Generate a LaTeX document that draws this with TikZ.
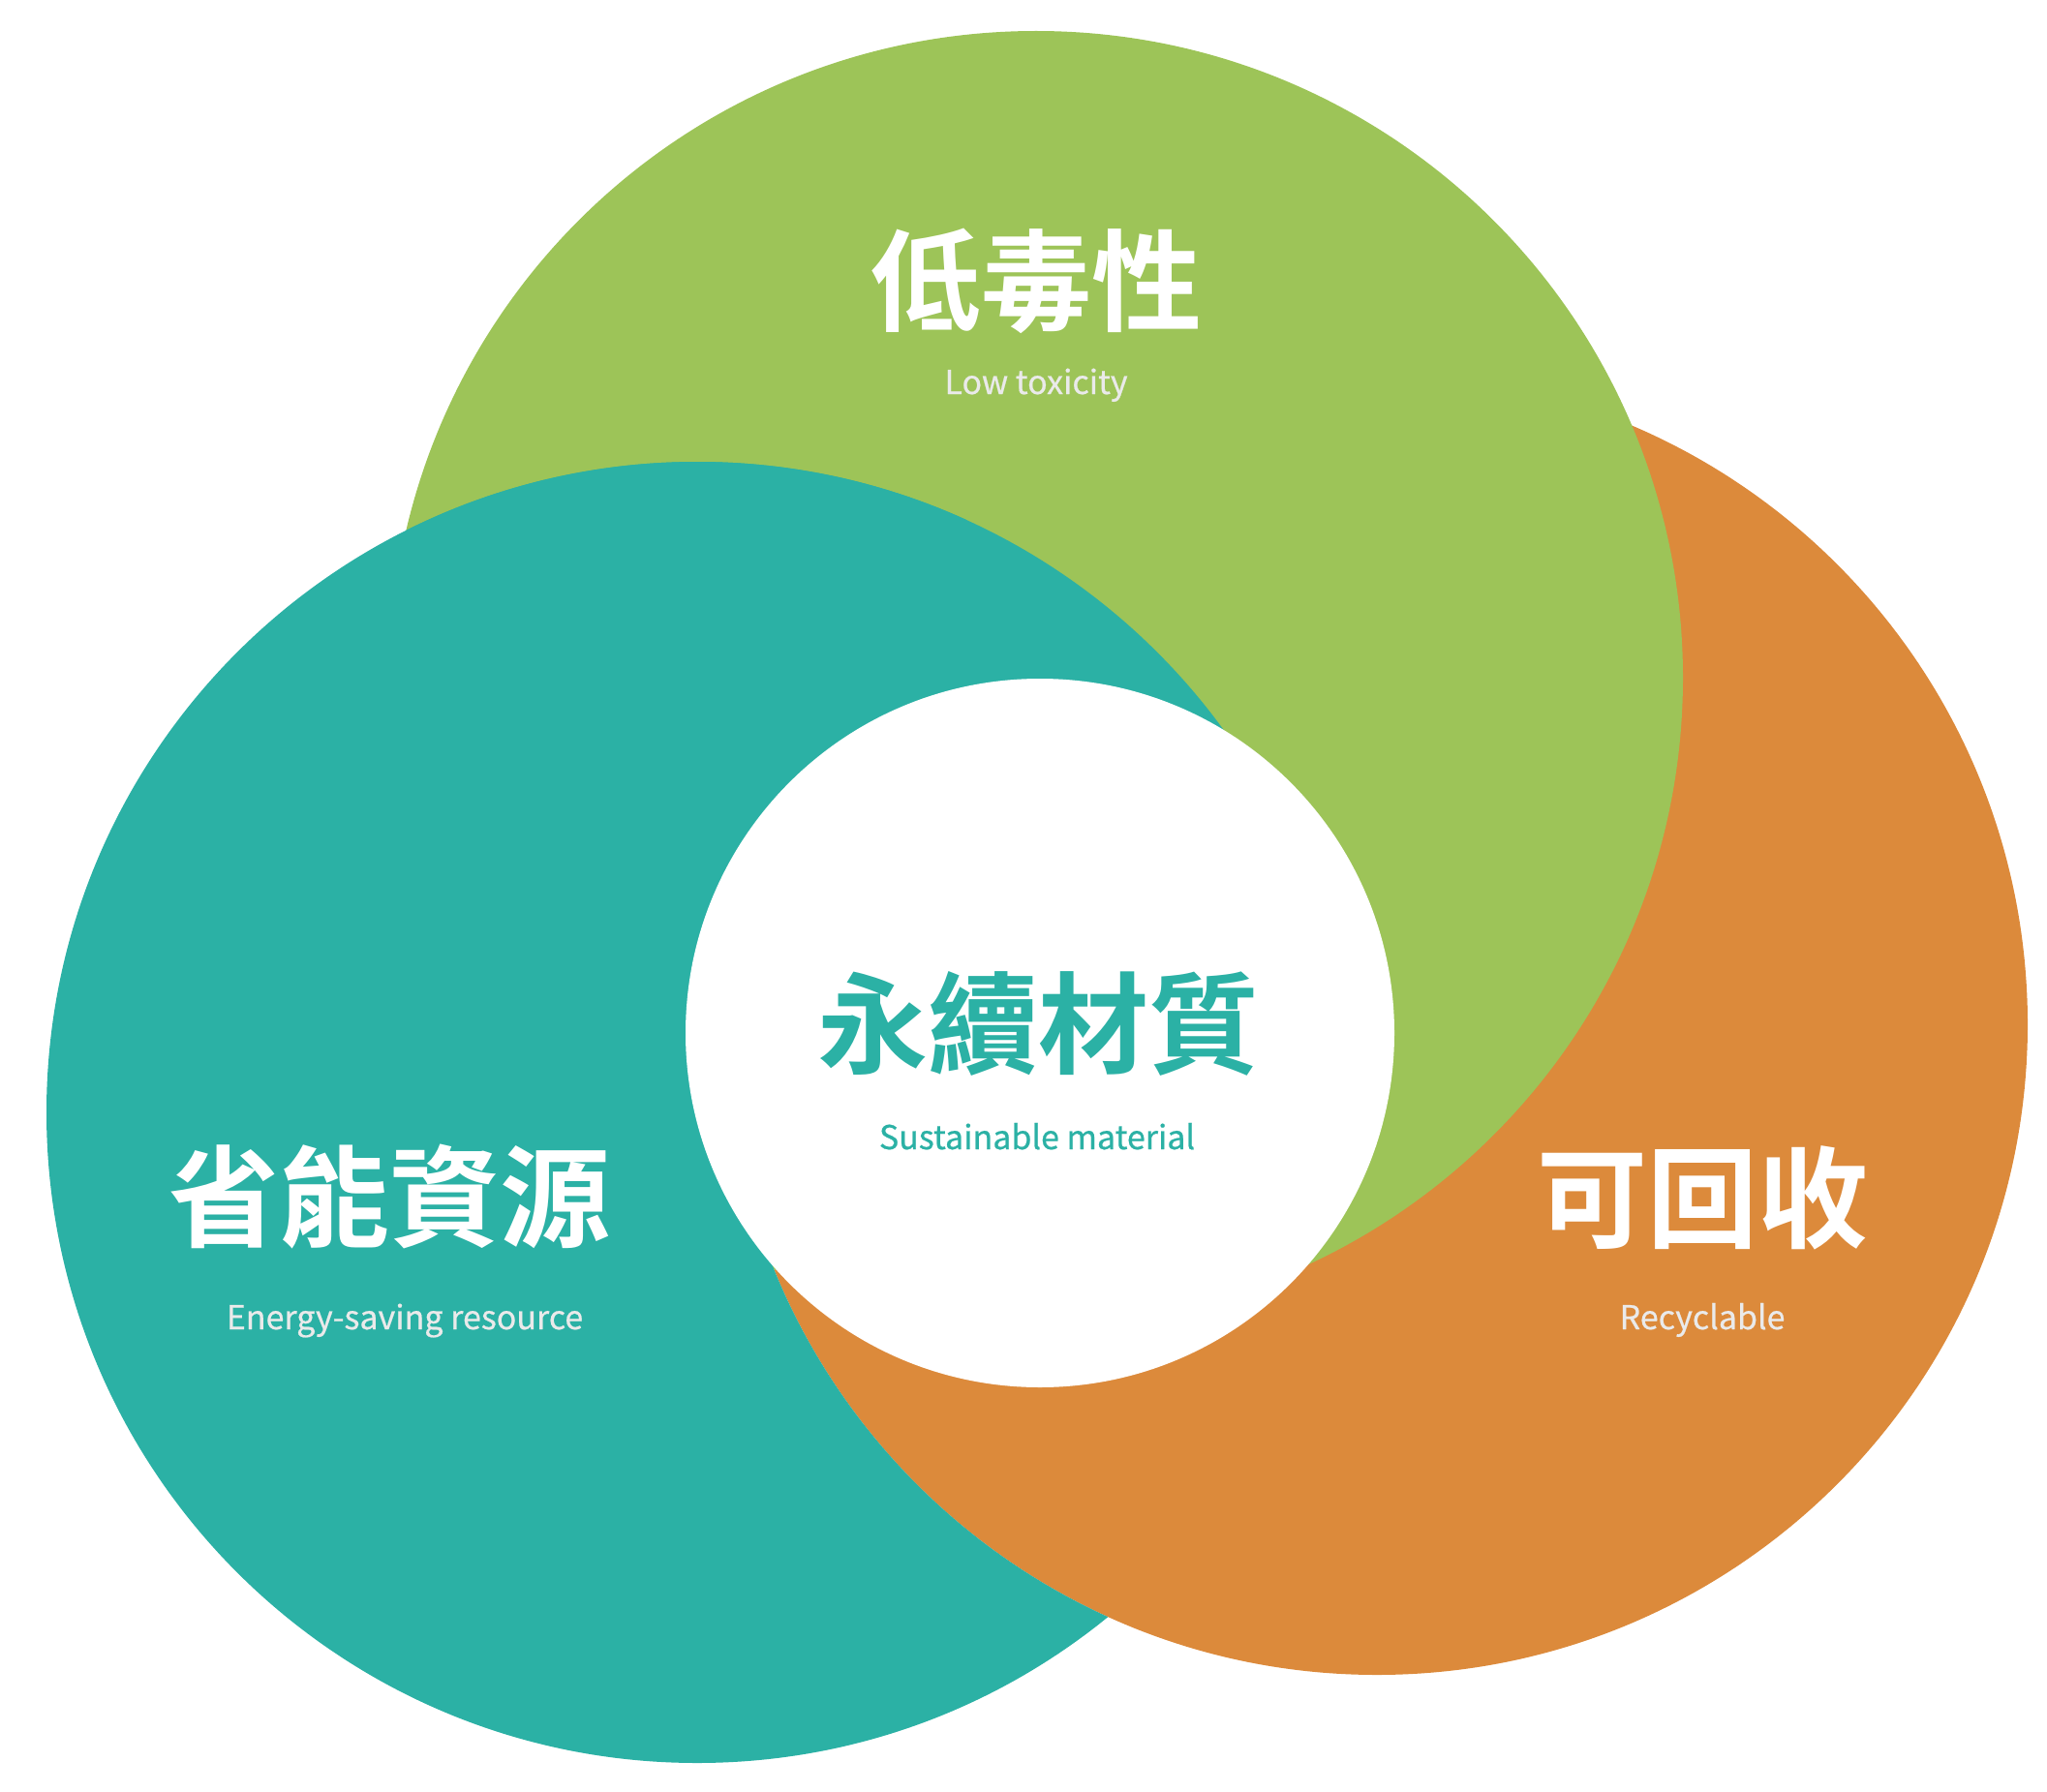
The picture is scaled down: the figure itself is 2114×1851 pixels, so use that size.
\documentclass[tikz,border=0pt]{standalone}
\usepackage{fontspec}
\newfontfamily\cjk{Noto Sans CJK TC}[BoldFont={Noto Sans CJK TC Bold}]
\newfontfamily\subf{Noto Sans CJK TC}[FakeBold=0.6]
\definecolor{cgreen}{HTML}{9DC458}
\definecolor{cteal}{HTML}{2BB1A5}
\definecolor{corange}{HTML}{DC8A3B}
\definecolor{csub}{HTML}{EAEAEA}
\tikzset{
  title/.style={inner sep=0pt, font=\cjk\bfseries\fontsize{114}{114}\selectfont, text=white},
  subtitle/.style={inner sep=0pt, anchor=base, font=\subf\fontsize{34}{34}\selectfont, text=csub}
}
\begin{document}
\begin{tikzpicture}[x=1pt,y=1pt]
\useasboundingbox (0,0) rectangle (2114,-1851);
\def\orangec{(1422,-1058) circle (672)}
\def\greenc{(1070,-700) circle (668)}
\def\tealc{(720,-1149) circle (672)}
% orange at the bottom, green over it
\fill[corange] \orangec;
\fill[cgreen] \greenc;
% teal wherever it is not under orange
\begin{scope}[even odd rule]
  \clip (-10,10) rectangle (2124,-1861) \orangec;
  \fill[cteal] \tealc;
\end{scope}
% teal over green in the upper part of the common area
\begin{scope}
  \clip \greenc;
  \clip (-10,10) rectangle (2124,-1067);
  \fill[cteal] \tealc;
\end{scope}
\fill[white] (1074,-1067) circle (366);
\node[title] (t1) at (1070,-290) {低毒性};
\node[subtitle] (s1) at (1070,-407) {Low toxicity};
\node[title] (t2) at (402,-1236) {省能資源};
\node[subtitle] (s2) at (418,-1373) {Energy-saving resource};
\node[title] (t3) at (1758,-1237) {可回收};
\node[subtitle] (s3) at (1758,-1373) {Recyclable};
\node[title, text=cteal] (t4) at (1072,-1057) {永續材質};
\node[subtitle, text=cteal] (s4) at (1071,-1187) {Sustainable material};
\end{tikzpicture}
\end{document}
